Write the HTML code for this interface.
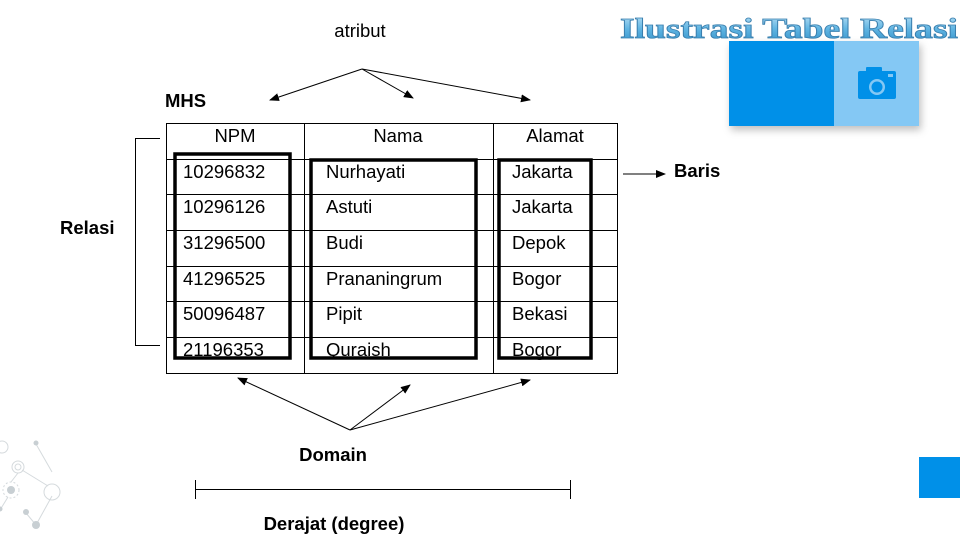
<!DOCTYPE html>
<html><head><meta charset="utf-8"><style>
body{margin:0;width:960px;height:540px;background:#fff;overflow:hidden;position:relative;font-family:"Liberation Sans",Arial,sans-serif}
</style></head><body>
<svg width="960" height="540" viewBox="0 0 960 540" style="position:absolute;left:0;top:0">
<defs>
<linearGradient id="g" x1="0" y1="0" x2="0" y2="1"><stop offset="0" stop-color="#bfe3f7"/><stop offset="0.5" stop-color="#5fb4e2"/><stop offset="1" stop-color="#2f8fc8"/></linearGradient>
<marker id="a" markerWidth="10" markerHeight="8" refX="9" refY="4" orient="auto" markerUnits="userSpaceOnUse"><path d="M0,0 L10,4 L0,8z" fill="#000"/></marker>
<filter id="sh" x="-10%" y="-10%" width="130%" height="140%"><feDropShadow dx="2" dy="4" stdDeviation="4" flood-opacity="0.25"/></filter>
</defs>
<text x="620" y="38" textLength="338" lengthAdjust="spacingAndGlyphs" font-family="Liberation Serif,serif" font-weight="bold" font-size="29" fill="url(#g)" stroke="#3a7fae" stroke-width="0.8">Ilustrasi Tabel Relasi</text>
<g filter="url(#sh)"><rect x="729" y="41" width="190" height="85" fill="#84c8f4"/></g>
<rect x="729" y="41" width="105" height="85" fill="#0090e8"/>
<rect x="858" y="71" width="38" height="28" rx="2" fill="#0090e8"/>
<rect x="866" y="67" width="16" height="6" rx="1" fill="#0090e8"/>
<circle cx="877" cy="87" r="8" fill="#84c8f4"/><circle cx="877" cy="87" r="5.5" fill="#0090e8"/>
<rect x="888" y="74" width="5" height="3" fill="#84c8f4"/>
<rect x="919" y="457" width="41" height="41" fill="#0090e8"/>
<g stroke="#d5dadd" fill="none" stroke-width="1">
<circle cx="2" cy="447" r="6"/><circle cx="18" cy="467" r="6"/><circle cx="18" cy="467" r="3"/>
<circle cx="11" cy="490" r="8" stroke-dasharray="2,2"/><path d="M36,444 L52,472 M18,473 L11,482 M22,470 L48,486 M8,497 L0,510 M26,513 L36,525 M36,525 L52,496"/>
<circle cx="52" cy="492" r="8"/></g>
<g fill="#c8cfd3"><circle cx="11" cy="490" r="4"/><circle cx="36" cy="443" r="2.5"/><circle cx="26" cy="512" r="3"/><circle cx="36" cy="525" r="4"/><circle cx="0" cy="509" r="2.5"/></g>
<g stroke="#000" stroke-width="1" fill="none">
<rect x="166.5" y="123.5" width="451" height="250"/>
<path d="M304.5,123 V373 M493.5,123 V373 M166,159.5 H617 M166,194.5 H617 M166,230.5 H617 M166,266.5 H617 M166,301.5 H617 M166,337.5 H617"/>
</g>
<g stroke="#000" stroke-width="3.5" fill="none">
<rect x="175" y="154" width="115" height="204"/>
<rect x="311" y="160" width="165" height="198"/>
<rect x="499" y="160" width="92" height="198"/>
</g>
<g font-size="18.5" fill="#000">
<text x="235" y="142" text-anchor="middle">NPM</text><text x="398" y="142" text-anchor="middle">Nama</text><text x="555" y="142" text-anchor="middle">Alamat</text>
<text x="183" y="178">10296832</text><text x="326" y="178">Nurhayati</text><text x="512" y="178">Jakarta</text>
<text x="183" y="213">10296126</text><text x="326" y="213">Astuti</text><text x="512" y="213">Jakarta</text>
<text x="183" y="249">31296500</text><text x="326" y="249">Budi</text><text x="512" y="249">Depok</text>
<text x="183" y="285">41296525</text><text x="326" y="285">Prananingrum</text><text x="512" y="285">Bogor</text>
<text x="183" y="320">50096487</text><text x="326" y="320">Pipit</text><text x="512" y="320">Bekasi</text>
<text x="183" y="356">21196353</text><text x="326" y="356">Quraish</text><text x="512" y="356">Bogor</text>
<text x="360" y="37" text-anchor="middle">atribut</text>
</g>
<g font-size="18.5" font-weight="bold" fill="#000">
<text x="165" y="107">MHS</text><text x="674" y="177">Baris</text><text x="60" y="234">Relasi</text>
<text x="333" y="461" text-anchor="middle">Domain</text><text x="334" y="530" text-anchor="middle">Derajat (degree)</text>
</g>
<g stroke="#000" stroke-width="1" fill="none">
<path d="M362,69 L270,100" marker-end="url(#a)"/><path d="M362,69 L413,98" marker-end="url(#a)"/><path d="M362,69 L530,100" marker-end="url(#a)"/>
<path d="M350,430 L238,378" marker-end="url(#a)"/><path d="M350,430 L410,385" marker-end="url(#a)"/><path d="M350,430 L530,380" marker-end="url(#a)"/>
<path d="M623,174 L665,174" marker-end="url(#a)"/>
<path d="M160,138.5 H135.5 V345.5 H160"/>
<path d="M195,489.5 H570 M195.5,480 V499 M570.5,480 V499"/>
</g>
</svg>
</body></html>
